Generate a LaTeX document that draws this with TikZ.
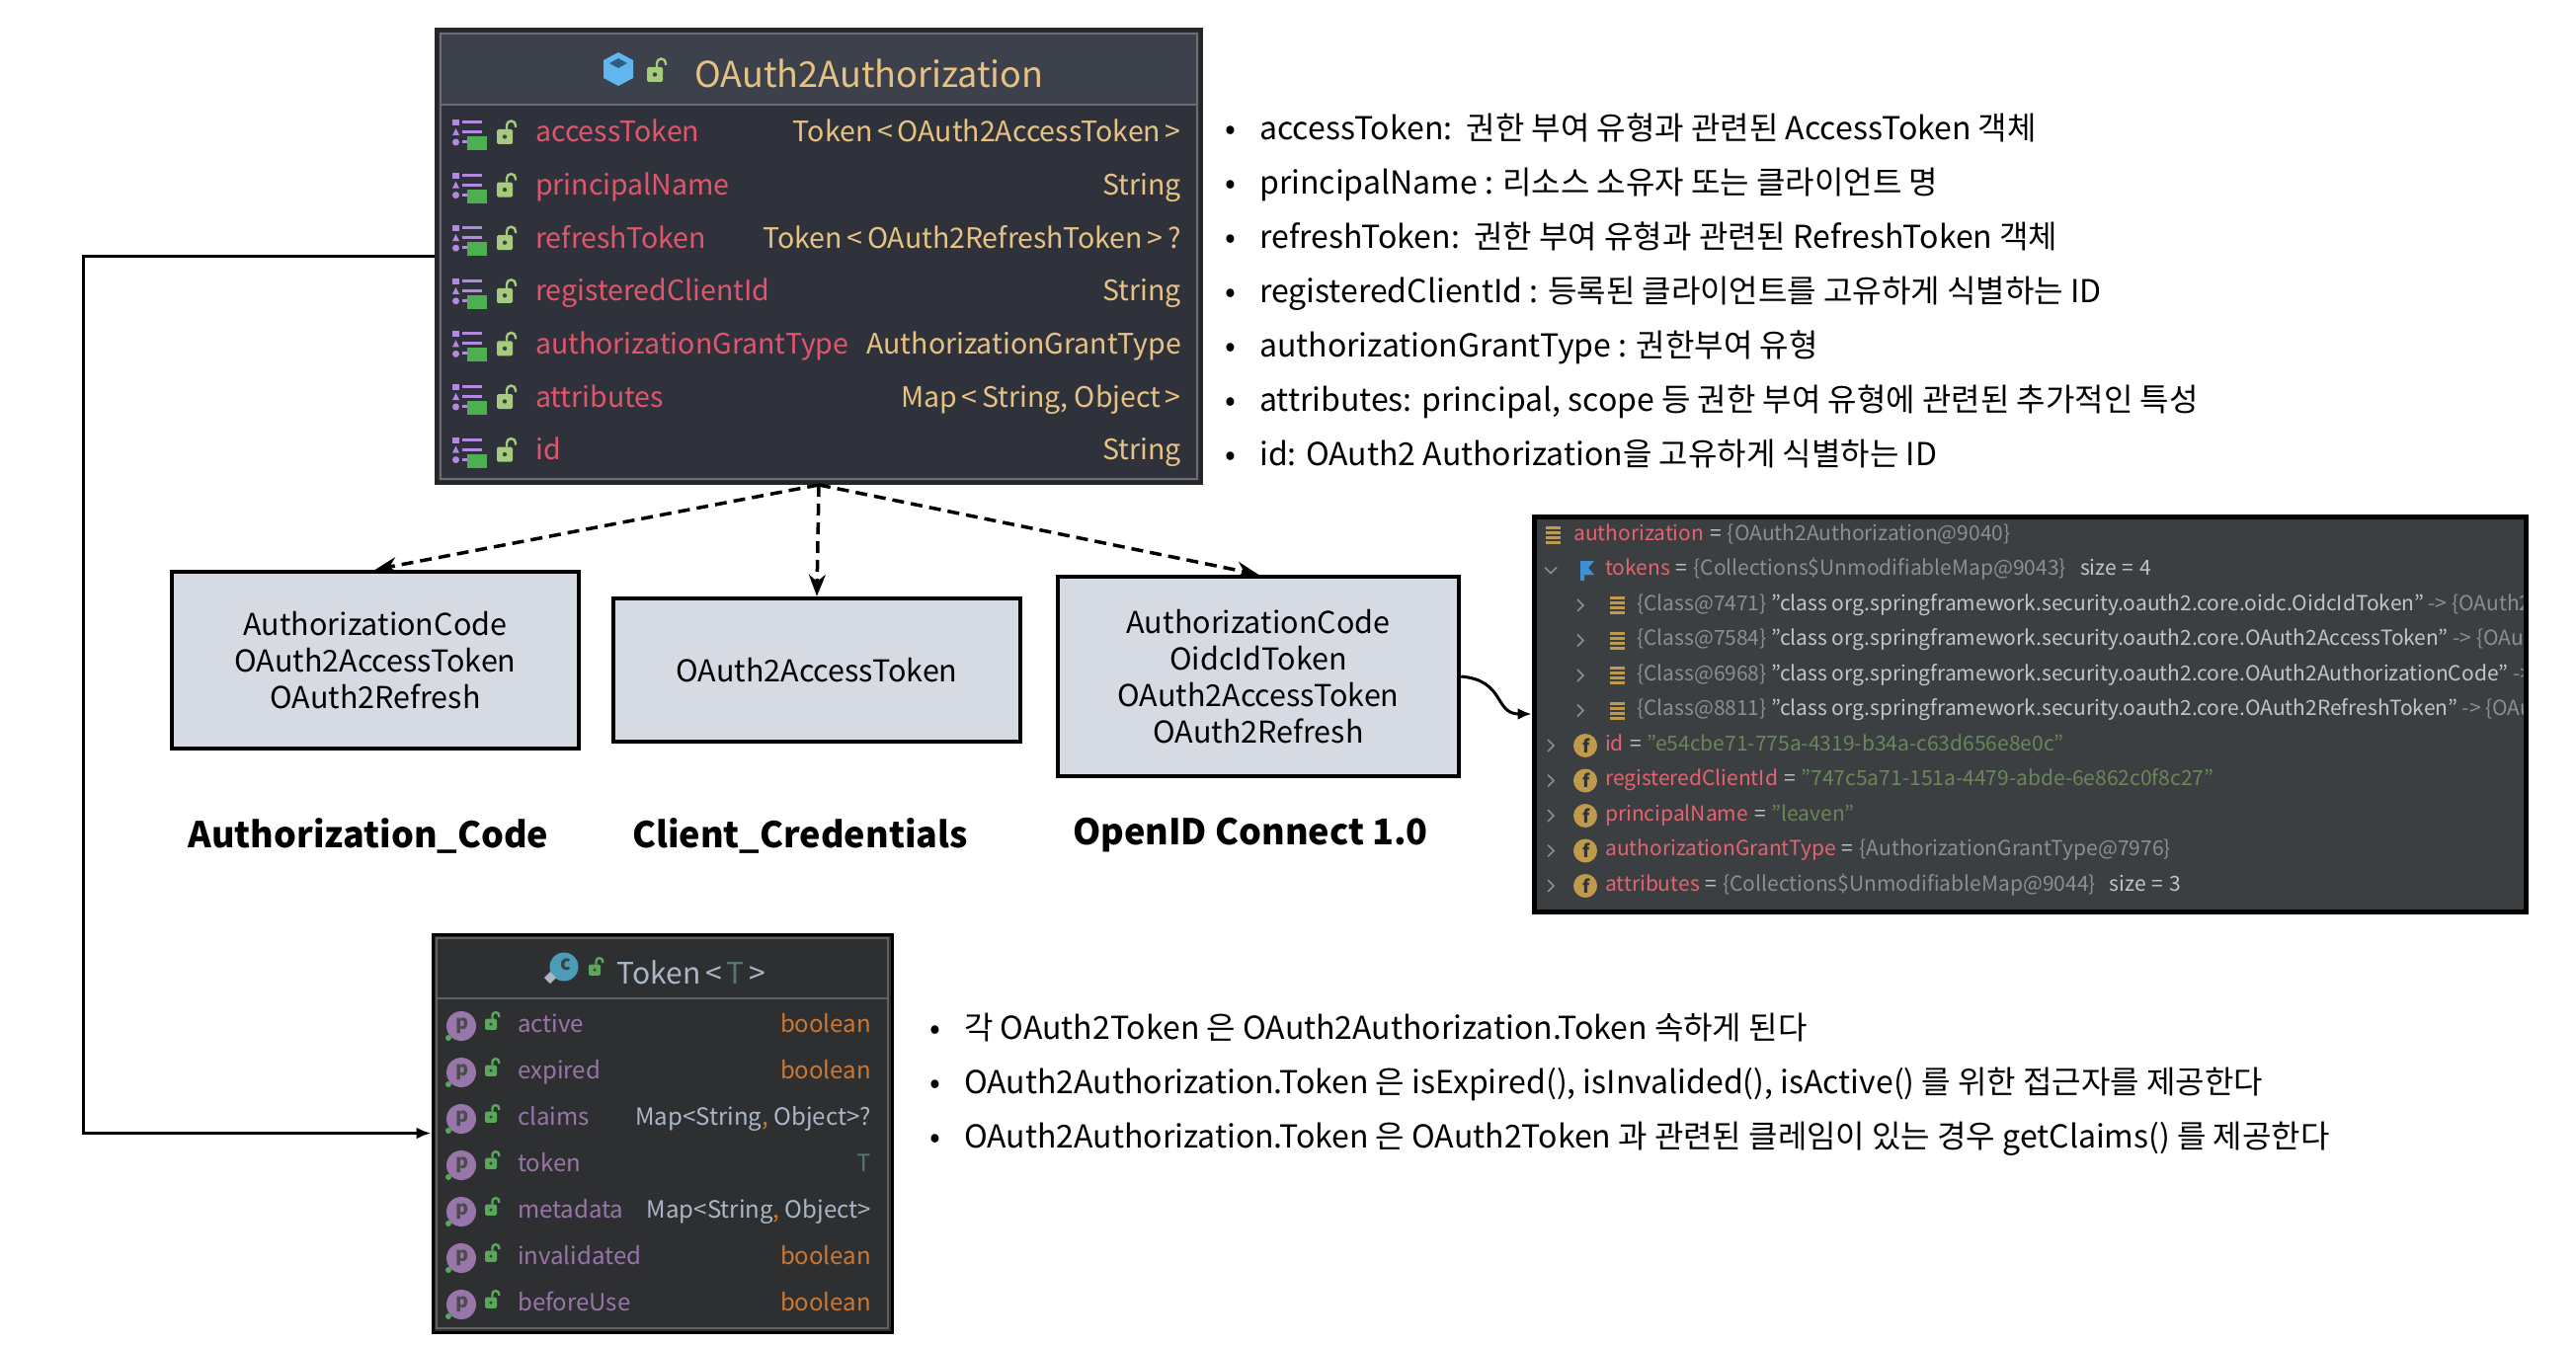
\documentclass[tikz,border=0pt]{standalone}
\usepackage{fontspec}
\setmainfont{Noto Sans CJK KR}
\usepackage{tikz}
\usetikzlibrary{arrows.meta,calc}

\definecolor{authbg}{HTML}{30323B}
\definecolor{authhead}{HTML}{3D414B}
\definecolor{authline}{HTML}{6B6E75}
\definecolor{fieldred}{HTML}{E0566C}
\definecolor{typetan}{HTML}{E6C384}
\definecolor{listviolet}{HTML}{B48AE0}
\definecolor{bookgreen}{HTML}{4CAF50}
\definecolor{lockgreen}{HTML}{A5CC7E}
\definecolor{cubeblue}{HTML}{62B6EF}
\definecolor{cubedark}{HTML}{2F5F80}
\definecolor{tokbg}{HTML}{2E2F31}
\definecolor{tokline}{HTML}{5F6163}
\definecolor{propviolet}{HTML}{9876AA}
\definecolor{kworange}{HTML}{CC7832}
\definecolor{plaingray}{HTML}{A9B7C6}
\definecolor{tparam}{HTML}{507874}
\definecolor{tlock}{HTML}{59A85C}
\definecolor{classteal}{HTML}{4A9CB8}
\definecolor{dbgbg}{HTML}{3C3F41}
\definecolor{dbgname}{HTML}{E3646F}
\definecolor{dbggray}{HTML}{8C8F92}
\definecolor{dbgtext}{HTML}{C4C4C4}
\definecolor{dbgstr}{HTML}{6A8759}
\definecolor{icontan}{HTML}{C09A4C}
\definecolor{flagblue}{HTML}{3D8FD6}
\definecolor{boxfill}{HTML}{D6DAE3}

% small IDE icons
\newcommand{\lockicon}[4]{%
  \begin{scope}[shift={(#1,#2)},scale=#3]
    \fill[#4,rounded corners=1.5pt] (-8,-6) rectangle (8,9);
    \draw[#4,line width=2.4pt] (2,-6) -- (2,-10) arc (180:360:4.5) -- (11,-8);
    \fill[black!75] (0,1.5) circle (2.2);
  \end{scope}}
\newcommand{\fieldicon}[2]{%
  \begin{scope}[shift={(#1,#2)}]
    \fill[listviolet] (0,-16) rectangle (7,-10);
    \fill[listviolet] (10,-15) rectangle (30,-12);
    \fill[listviolet] (0,0) -- (3.5,-7) -- (7,0) -- cycle;
    \fill[listviolet] (10,-5) rectangle (30,-2);
    \fill[listviolet] (3.5,7) circle (3.5);
    \fill[listviolet] (10,5) rectangle (22,8);
    \fill[bookgreen] (15,1) rectangle (35,15);
  \end{scope}}
\newcommand{\barsicon}[2]{%
  \begin{scope}[shift={(#1,#2)}]
    \foreach \k in {0,...,3} \fill[icontan] (0,{-9+5*\k}) rectangle (15,{-6+5*\k});
  \end{scope}}
\newcommand{\chevright}[2]{\draw[dbggray,line width=1.6pt] (#1-3,#2-6) -- (#1+3,#2) -- (#1-3,#2+6);}
\newcommand{\dbgeq}{\hspace{6pt}=\hspace{6pt}}

\begin{document}
\begin{tikzpicture}[x=1pt,y=-1pt,
  fname/.style={anchor=west,inner sep=0pt,text=fieldred,font=\fontsize{28.5}{33}\selectfont,text height=21pt,text depth=7pt},
  ftype/.style={anchor=east,inner sep=0pt,text=typetan,font=\fontsize{28.5}{33}\selectfont,text height=21pt,text depth=7pt},
  pname/.style={anchor=west,inner sep=0pt,text=propviolet,font=\fontsize{24}{28}\selectfont,text height=18pt,text depth=6pt},
  ptype/.style={anchor=east,inner sep=0pt,font=\fontsize{24}{28}\selectfont,text height=18pt,text depth=6pt},
  dbgtxt/.style={anchor=west,inner sep=0pt,text=dbgtext,font=\fontsize{21}{25}\selectfont,text height=15pt,text depth=5pt},
  note/.style={anchor=west,inner sep=0pt,font=\fontsize{32}{38}\selectfont,text height=23pt,text depth=8pt},
  grantbox/.style={draw=black,line width=4.5pt,fill=boxfill,align=center,inner sep=0pt,font=\fontsize{30.5}{37}\selectfont},
  grantlbl/.style={inner sep=0pt,font=\fontsize{36}{42}\selectfont\bfseries},
  dashflow/.style={dash pattern=on 12pt off 7pt,line width=3.5pt,-{Stealth[length=22pt,width=17pt]}},
  link/.style={line width=3pt,-{Latex[length=15pt,width=12pt]}},
]
\useasboundingbox (0,0) rectangle (2608,1362);
\fill[white] (0,0) rectangle (2608,1362);

% OAuth2Authorization class
\node (auth) at (829,259.5) [draw=black!85,line width=4pt,fill=authbg,inner sep=0pt,minimum width=774pt,minimum height=459pt] {};
\fill[authhead] (446,34) rectangle (1212,106);
\draw[authline,line width=1.5pt] (446,34) rectangle (1212,485);
\draw[authline,line width=2.5pt] (446,106) -- (1212,106);
\fill[cubeblue] (626,53) -- (641,61) -- (641,79) -- (626,87) -- (611,79) -- (611,61) -- cycle;
\fill[cubedark] (626,59) -- (635,64) -- (626,69) -- (617,64) -- cycle;
\lockicon{663}{74}{1}{lockgreen}
\node (authtitle) at (880,74) [text=typetan,font=\fontsize{36}{42}\selectfont] {OAuth2Authorization};
\foreach \fn/\ft [count=\i from 0] in {accessToken/{Token\,<\,OAuth2AccessToken\,>},
    principalName/String, refreshToken/{Token\,<\,OAuth2RefreshToken\,>\,?},
    registeredClientId/String, authorizationGrantType/AuthorizationGrantType,
    attributes/{Map\,<\,String, Object\,>}, id/String}{
  \pgfmathsetmacro{\yy}{137+53.6*\i}
  \fieldicon{458}{\yy}
  \lockicon{511}{\yy}{1}{lockgreen}
  \node (f\i) at (542,\yy) [fname] {\fn};
  \node (t\i) at (1196,\yy) [ftype] {\ft};
}

% notes on the fields
\node (n1) at (1275,134) [note] {\llap{•\hspace{24pt}}accessToken:\ \ 권한 부여 유형과 관련된 AccessToken 객체};
\node (n2) at (1275,189) [note] {\llap{•\hspace{24pt}}principalName : 리소스 소유자 또는 클라이언트 명};
\node (n3) at (1275,244) [note] {\llap{•\hspace{24pt}}refreshToken:\ \ 권한 부여 유형과 관련된 RefreshToken 객체};
\node (n4) at (1275,299) [note] {\llap{•\hspace{24pt}}registeredClientId : 등록된 클라이언트를 고유하게 식별하는 ID};
\node (n5) at (1275,354) [note] {\llap{•\hspace{24pt}}authorizationGrantType : 권한부여 유형};
\node (n6) at (1275,409) [note] {\llap{•\hspace{24pt}}attributes: principal, scope 등 권한 부여 유형에 관련된 추가적인 특성};
\node (n7) at (1275,464) [note] {\llap{•\hspace{24pt}}id: OAuth2 Authorization을 고유하게 식별하는 ID};

% token sets per grant type
\node (ac) at (380,668.5) [grantbox,minimum width=412pt,minimum height=179pt] {AuthorizationCode\\OAuth2AccessToken\\OAuth2Refresh};
\node (cc) at (827,678.5) [grantbox,minimum width=412pt,minimum height=145pt] {OAuth2AccessToken};
\node (oidc) at (1274,685) [grantbox,minimum width=406pt,minimum height=202pt] {AuthorizationCode\\OidcIdToken\\OAuth2AccessToken\\OAuth2Refresh};
\node (acl) at (373,846) [grantlbl] {Authorization\_Code};
\node (ccl) at (810,846) [grantlbl] {Client\_Credentials};
\node (oidcl) at (1266,846) [grantlbl] {OpenID Connect 1.0};

\draw[dashflow] (auth.south) -- (ac.north);
\draw[dashflow] (auth.south) -- (cc.north);
\draw[dashflow] (auth.south) -- (oidc.north);

% debugger view
\node (dbg) at (2055,723) [draw=black,line width=5pt,fill=dbgbg,inner sep=0pt,minimum width=1004pt,minimum height=400pt] {};
\begin{scope}
\clip (1556,526) rectangle (2554,920);
\barsicon{1565}{542}
\node (d1) at (1593,542) [dbgtxt] {\textcolor{dbgname}{authorization}\dbgeq\textcolor{dbggray}{\{OAuth2Authorization@9040\}}};
\draw[dbggray,line width=1.6pt] (1564,574.5) -- (1570,580.5) -- (1576,574.5);
\fill[flagblue] (1600,568) -- (1614,568) -- (1608,575) -- (1614,582) -- (1604,582) -- (1604,588) -- (1600,588) -- cycle;
\node (d2) at (1625,577.5) [dbgtxt] {\textcolor{dbgname}{tokens}\dbgeq\textcolor{dbggray}{\{Collections\$UnmodifiableMap@9043\}}\hspace{14pt}size\dbgeq 4};
\foreach \y in {613,648.5,684,719.5}{
  \chevright{1600}{\y}
  \barsicon{1630}{\y}
}
\node (d3) at (1657,613) [dbgtxt] {\textcolor{dbggray}{\{Class@7471\}} "class org.springframework.security.oauth2.core.oidc.OidcIdToken" \textcolor{dbggray}{-> \{OAuth2}};
\node (d4) at (1657,648.5) [dbgtxt] {\textcolor{dbggray}{\{Class@7584\}} "class org.springframework.security.oauth2.core.OAuth2AccessToken" \textcolor{dbggray}{-> \{OAuth2}};
\node (d5) at (1657,684) [dbgtxt] {\textcolor{dbggray}{\{Class@6968\}} "class org.springframework.security.oauth2.core.OAuth2AuthorizationCode" \textcolor{dbggray}{-> \{OAuth2}};
\node (d6) at (1657,719.5) [dbgtxt] {\textcolor{dbggray}{\{Class@8811\}} "class org.springframework.security.oauth2.core.OAuth2RefreshToken" \textcolor{dbggray}{-> \{OAuth2}};
\foreach \y [count=\j] in {755,790.5,826,861.5,897}{
  \chevright{1570}{\y}
  \fill[icontan] (1605,\y) circle (12);
  \node (fi\j) at (1606,\y) [text=black!80,font=\fontsize{18}{20}\selectfont\bfseries] {f};
}
\node (d7) at (1625,755) [dbgtxt] {\textcolor{dbgname}{id}\dbgeq\textcolor{dbgstr}{"e54cbe71-775a-4319-b34a-c63d656e8e0c"}};
\node (d8) at (1625,790.5) [dbgtxt] {\textcolor{dbgname}{registeredClientId}\dbgeq\textcolor{dbgstr}{"747c5a71-151a-4479-abde-6e862c0f8c27"}};
\node (d9) at (1625,826) [dbgtxt] {\textcolor{dbgname}{principalName}\dbgeq\textcolor{dbgstr}{"leaven"}};
\node (d10) at (1625,861.5) [dbgtxt] {\textcolor{dbgname}{authorizationGrantType}\dbgeq\textcolor{dbggray}{\{AuthorizationGrantType@7976\}}};
\node (d11) at (1625,897) [dbgtxt] {\textcolor{dbgname}{attributes}\dbgeq\textcolor{dbggray}{\{Collections\$UnmodifiableMap@9044\}}\hspace{14pt}size\dbgeq 3};
\end{scope}

\draw[line width=3pt,-{Latex[length=14pt,width=12pt]}] (oidc.east) .. controls +(45pt,-4pt) and +(-38pt,0pt) .. (dbg.west);

% Token<T> class
\node (tok) at (670.5,1147.5) [draw=black,line width=3pt,fill=tokbg,inner sep=0pt,minimum width=465pt,minimum height=403pt] {};
\draw[tokline,line width=1.5pt] (442,950) rectangle (899,1345);
\draw[tokline,line width=2.5pt] (442,1011) -- (899,1011);
\fill[classteal] (571,979) circle (14.5);
\fill[plaingray] (557,984) -- (563,990) -- (557,996) -- (551,990) -- cycle;
\node (tokc) at (573,977) [text=black!75,font=\fontsize{20}{22}\selectfont\bfseries] {c};
\lockicon{602}{981}{0.75}{tlock}
\node (toktitle) at (700,985) [text=plaingray,font=\fontsize{30}{34}\selectfont] {Token\,<\,\textcolor{tparam}{T}\,>};
\foreach \pn/\pt/\pc [count=\i from 0] in {active/boolean/kworange, expired/boolean/kworange,
    claims/{Map<String\textcolor{kworange}{,} Object>?}/plaingray, token/T/tparam,
    metadata/{Map<String\textcolor{kworange}{,} Object>}/plaingray, invalidated/boolean/kworange,
    beforeUse/boolean/kworange}{
  \pgfmathsetmacro{\yy}{1039+47*\i}
  \fill[propviolet] (467,\yy) circle (15);
  \fill[tlock] (454,\yy+12) circle (3);
  \node (pp\i) at (468,\yy) [text=black!70,font=\fontsize{20}{22}\selectfont\bfseries] {p};
  \lockicon{497}{\yy-3}{0.75}{tlock}
  \node (p\i) at (524,\yy) [pname] {\pn};
  \node (q\i) at (882,\yy) [ptype,text=\pc] {\pt};
}

\draw[link] (auth.west) -- (84,259.5) |- (tok.west);

% notes on Token
\node (m1) at (976,1045) [note] {\llap{•\hspace{24pt}}각 OAuth2Token 은 OAuth2Authorization.Token 속하게 된다};
\node (m2) at (976,1100) [note] {\llap{•\hspace{24pt}}OAuth2Authorization.Token 은 isExpired(), isInvalided(), isActive() 를 위한 접근자를 제공한다};
\node (m3) at (976,1155) [note] {\llap{•\hspace{24pt}}OAuth2Authorization.Token 은 OAuth2Token 과 관련된 클레임이 있는 경우 getClaims() 를 제공한다};
\end{tikzpicture}
\end{document}
